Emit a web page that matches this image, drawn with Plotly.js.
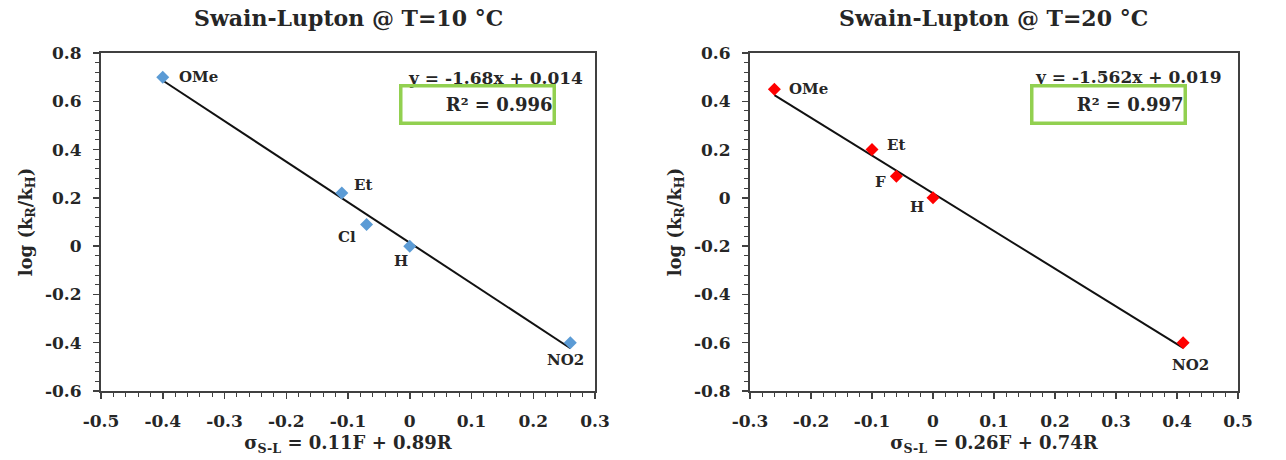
<!DOCTYPE html>
<html>
<head>
<meta charset="utf-8">
<script src="https://cdn.plot.ly/plotly-3.0.1.min.js"></script>
<style>html,body{margin:0;padding:0;background:#fff;}#chart{width:1286px;height:460px;}</style>
</head>
<body>
<div id="chart"></div>
<script>
// ---- Data: Swain-Lupton @ T = 10 °C ----
const labels10 = ["OMe", "Et", "Cl", "H", "NO2"];
const sigma10 = [-0.40, -0.11, -0.07, 0.00, 0.26];
const logk10 = [0.70, 0.22, 0.09, 0.00, -0.40];
const slope10 = -1.68, intercept10 = 0.014, r2_10 = "0.996";

// ---- Data: Swain-Lupton @ T = 20 °C ----
const labels20 = ["OMe", "Et", "F", "H", "NO2"];
const sigma20 = [-0.26, -0.10, -0.06, 0.00, 0.41];
const logk20 = [0.45, 0.20, 0.09, 0.00, -0.60];
const slope20 = -1.562, intercept20 = 0.019, r2_20 = "0.997";

// ---- Tick labels ----
const xTickVals10 = [-0.5, -0.4, -0.3, -0.2, -0.1, 0, 0.1, 0.2, 0.3];
const xTickText10 = ["-0.5", "-0.4", "-0.3", "-0.2", "-0.1", "0", "0.1", "0.2", "0.3"];
const yTickVals10 = [-0.6, -0.4, -0.2, 0, 0.2, 0.4, 0.6, 0.8];
const yTickText10 = ["-0.6", "-0.4", "-0.2", "0", "0.2", "0.4", "0.6", "0.8"];
const xTickVals20 = [-0.3, -0.2, -0.1, 0, 0.1, 0.2, 0.3, 0.4, 0.5];
const xTickText20 = ["-0.3", "-0.2", "-0.1", "0", "0.1", "0.2", "0.3", "0.4", "0.5"];
const yTickVals20 = [-0.8, -0.6, -0.4, -0.2, 0, 0.2, 0.4, 0.6];
const yTickText20 = ["-0.8", "-0.6", "-0.4", "-0.2", "0", "0.2", "0.4", "0.6"];

// ---- Label placement (style only: pixel offsets from each point) ----
const labelOffsets10 = [[14, 0, "left"], [21, 8, "center"], [-20, -13, "center"], [-9, -15, "center"], [-5, -17, "center"]];
const labelOffsets20 = [[13, 0, "left"], [24, 5, "center"], [-16, -6, "center"], [-16, -9, "center"], [7, -22, "center"]];

const FONT = "DejaVu Serif, Liberation Serif, serif";
const TXT = "#262626";

function trend(xs, m, b) {
  const lo = Math.min(...xs), hi = Math.max(...xs);
  return { x: [lo, hi], y: [m * lo + b, m * hi + b] };
}
const t10 = trend(sigma10, slope10, intercept10);
const t20 = trend(sigma20, slope20, intercept20);

const traces = [
  { x: t10.x, y: t10.y, xaxis: "x", yaxis: "y", mode: "lines", line: { color: "#111", width: 2 }, hoverinfo: "skip" },
  { x: sigma10, y: logk10, xaxis: "x", yaxis: "y", mode: "markers",
    marker: { symbol: "diamond", size: 10, color: "#5B9BD5" } },
  { x: t20.x, y: t20.y, xaxis: "x2", yaxis: "y2", mode: "lines", line: { color: "#111", width: 2 }, hoverinfo: "skip" },
  { x: sigma20, y: logk20, xaxis: "x2", yaxis: "y2", mode: "markers",
    marker: { symbol: "diamond", size: 10, color: "#FF0000" } }
];

function xAxis(domain, anchor, range, vals, text, title) {
  return {
    domain: domain, anchor: anchor, range: range, tickvals: vals, ticktext: text,
    showline: true, mirror: true, linecolor: "#404040", linewidth: 2,
    ticks: "outside", ticklen: 6, tickwidth: 1.5, tickcolor: "#404040",
    minor: { dtick: 0.02, ticks: "outside", ticklen: 4, tickcolor: "#404040", tickwidth: 1 },
    showgrid: false, zeroline: false, ticklabelstandoff: 8,
    tickfont: { family: FONT, size: 17, color: TXT, weight: "bold" },
    title: { text: title, font: { family: FONT, size: 18, color: TXT, weight: "bold" }, standoff: 6 }
  };
}
function yAxis(domain, anchor, range, vals, text, title) {
  return {
    domain: domain, anchor: anchor, range: range, tickvals: vals, ticktext: text,
    showline: true, mirror: true, linecolor: "#404040", linewidth: 2,
    ticks: "outside", ticklen: 6, tickwidth: 1.5, tickcolor: "#404040",
    minor: { dtick: 0.04, ticks: "outside", ticklen: 4, tickcolor: "#404040", tickwidth: 1 },
    showgrid: false, zeroline: false, ticklabelstandoff: 8,
    tickfont: { family: FONT, size: 17, color: TXT, weight: "bold" },
    title: { text: title, font: { family: FONT, size: 18, color: TXT, weight: "bold" }, standoff: 8 }
  };
}

const yTitle = "log (k<sub>R</sub>/k<sub>H</sub>)";

const annotations = [
  { text: "Swain-Lupton @ T=10 °C", xref: "x domain", yref: "paper", x: 0.5, y: 1, yanchor: "middle", yshift: 35,
    showarrow: false, font: { family: FONT, size: 22, color: TXT, weight: "bold" } },
  { text: "Swain-Lupton @ T=20 °C", xref: "x2 domain", yref: "paper", x: 0.5, y: 1, yanchor: "middle", yshift: 35,
    showarrow: false, font: { family: FONT, size: 22, color: TXT, weight: "bold" } },
  { text: "y = " + slope10 + "x + " + intercept10, xref: "x domain", yref: "y domain", x: 0.98, y: 0.926,
    xanchor: "right", yanchor: "middle", showarrow: false, font: { family: FONT, size: 17, color: TXT, weight: "bold" } },
  { text: "y = " + slope20 + "x + " + intercept20, xref: "x2 domain", yref: "y2 domain", x: 0.972, y: 0.929,
    xanchor: "right", yanchor: "middle", showarrow: false, font: { family: FONT, size: 17, color: TXT, weight: "bold" } },
  { text: "R² = " + r2_10, xref: "x domain", yref: "y domain", x: 0.762, y: 0.849,
    xanchor: "center", yanchor: "middle", showarrow: false, width: 150, height: 34, align: "right",
    bordercolor: "#92D050", borderwidth: 3.5, borderpad: 0,
    font: { family: FONT, size: 18, color: TXT, weight: "bold" } },
  { text: "R² = " + r2_20, xref: "x2 domain", yref: "y2 domain", x: 0.735, y: 0.849,
    xanchor: "center", yanchor: "middle", showarrow: false, width: 150, height: 34, align: "right",
    bordercolor: "#92D050", borderwidth: 3.5, borderpad: 0,
    font: { family: FONT, size: 18, color: TXT, weight: "bold" } }
];

function pointLabels(labels, xs, ys, offs, xr, yr) {
  labels.forEach((t, i) => {
    annotations.push({
      text: t, x: xs[i], y: ys[i], xref: xr, yref: yr, showarrow: false,
      xanchor: offs[i][2], yanchor: "middle", xshift: offs[i][0], yshift: offs[i][1],
      font: { family: FONT, size: 15, color: TXT, weight: "bold" }
    });
  });
}
pointLabels(labels10, sigma10, logk10, labelOffsets10, "x", "y");
pointLabels(labels20, sigma20, logk20, labelOffsets20, "x2", "y2");

const layout = {
  width: 1286, height: 460,
  margin: { l: 101, r: 48, t: 53, b: 69 },
  paper_bgcolor: "#fff", plot_bgcolor: "#fff",
  showlegend: false,
  xaxis: xAxis([0, 0.4345], "y", [-0.5, 0.3], xTickVals10, xTickText10, "σ<sub>S-L</sub> = 0.11F + 0.89R"),
  yaxis: yAxis([0, 1], "x", [-0.6, 0.8], yTickVals10, yTickText10, yTitle),
  xaxis2: xAxis([0.5708, 1], "y2", [-0.3, 0.5], xTickVals20, xTickText20, "σ<sub>S-L</sub> = 0.26F + 0.74R"),
  yaxis2: yAxis([0, 1], "x2", [-0.8, 0.6], yTickVals20, yTickText20, yTitle),
  annotations: annotations
};

Plotly.newPlot("chart", traces, layout, { staticPlot: true, displayModeBar: false });
</script>
</body>
</html>
